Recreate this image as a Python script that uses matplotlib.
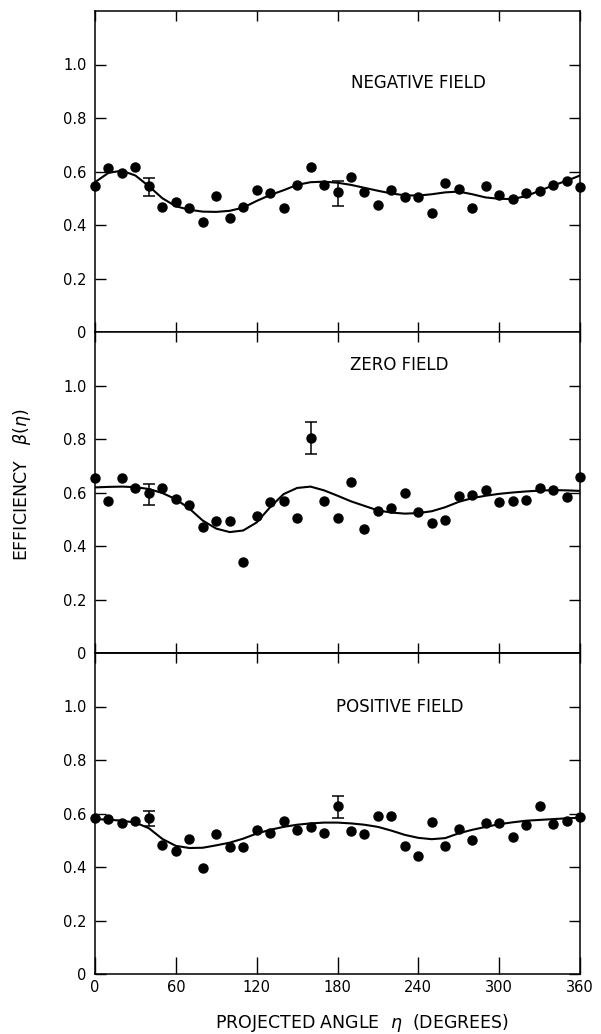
"""Efficiency beta(eta) versus projected angle for three field settings."""

import matplotlib

matplotlib.use("Agg")
import matplotlib.pyplot as plt
import numpy as np

# projected angle (degrees) of every measured point and of the fitted curve
angles = [0, 10, 20, 30, 40, 50, 60, 70, 80, 90, 100, 110, 120, 130, 140, 150,
          160, 170, 180, 190, 200, 210, 220, 230, 240, 250, 260, 270, 280, 290,
          300, 310, 320, 330, 340, 350, 360]

neg_points = [0.545, 0.614, 0.595, 0.617, 0.545, 0.467, 0.485, 0.465, 0.412,
              0.510, 0.427, 0.467, 0.530, 0.519, 0.464, 0.551, 0.617, 0.548,
              0.524, 0.579, 0.524, 0.474, 0.530, 0.505, 0.504, 0.444, 0.556,
              0.535, 0.462, 0.544, 0.514, 0.497, 0.520, 0.526, 0.548, 0.564,
              0.543]
neg_curve = [0.560, 0.595, 0.603, 0.585, 0.545, 0.500, 0.470, 0.457, 0.450,
             0.449, 0.453, 0.465, 0.490, 0.512, 0.530, 0.550, 0.560, 0.562,
             0.558, 0.550, 0.539, 0.528, 0.518, 0.511, 0.510, 0.515, 0.522,
             0.525, 0.515, 0.503, 0.498, 0.497, 0.508, 0.528, 0.548, 0.565,
             0.585]

zero_points = [0.653, 0.569, 0.654, 0.617, 0.597, 0.615, 0.575, 0.554, 0.470,
               0.494, 0.492, 0.339, 0.514, 0.563, 0.569, 0.504, 0.803, 0.569,
               0.504, 0.640, 0.462, 0.529, 0.541, 0.598, 0.527, 0.487, 0.499,
               0.588, 0.589, 0.610, 0.564, 0.570, 0.573, 0.617, 0.610, 0.583,
               0.657]
zero_curve = [0.619, 0.621, 0.622, 0.620, 0.613, 0.598, 0.575, 0.540, 0.495,
              0.465, 0.452, 0.458, 0.488, 0.545, 0.594, 0.617, 0.622, 0.608,
              0.588, 0.567, 0.550, 0.533, 0.525, 0.521, 0.523, 0.530, 0.545,
              0.565, 0.579, 0.588, 0.595, 0.600, 0.604, 0.607, 0.609, 0.608,
              0.606]

pos_points = [0.582, 0.578, 0.566, 0.573, 0.583, 0.481, 0.460, 0.504, 0.398,
              0.523, 0.475, 0.476, 0.538, 0.526, 0.571, 0.540, 0.548, 0.526,
              0.629, 0.533, 0.523, 0.591, 0.589, 0.480, 0.442, 0.570, 0.477,
              0.541, 0.501, 0.563, 0.564, 0.511, 0.556, 0.627, 0.560, 0.571,
              0.586]
pos_curve = [0.579, 0.577, 0.573, 0.566, 0.545, 0.505, 0.479, 0.471, 0.472,
             0.481, 0.491, 0.506, 0.525, 0.539, 0.550, 0.558, 0.563, 0.566,
             0.566, 0.563, 0.558, 0.550, 0.536, 0.520, 0.509, 0.504, 0.508,
             0.526, 0.539, 0.550, 0.560, 0.567, 0.573, 0.576, 0.579, 0.582,
             0.584]

# representative error bars: angle, value, lower, upper
neg_err_angle = [40, 180]
neg_err_value = [0.545, 0.524]
neg_err_low = [0.510, 0.470]
neg_err_high = [0.576, 0.566]

zero_err_angle = [40, 160]
zero_err_value = [0.597, 0.803]
zero_err_low = [0.553, 0.744]
zero_err_high = [0.632, 0.863]

pos_err_angle = [40, 180]
pos_err_value = [0.583, 0.629]
pos_err_low = [0.554, 0.585]
pos_err_high = [0.608, 0.664]

panel_titles = ["NEGATIVE FIELD", "ZERO FIELD", "POSITIVE FIELD"]
x_ticks = [0, 60, 120, 180, 240, 300, 360]
y_ticks = [0, 0.2, 0.4, 0.6, 0.8, 1.0]
y_tick_labels = ["0", "0.2", "0.4", "0.6", "0.8", "1.0"]

panels = [
    (neg_points, neg_curve, neg_err_angle, neg_err_value, neg_err_low, neg_err_high),
    (zero_points, zero_curve, zero_err_angle, zero_err_value, zero_err_low, zero_err_high),
    (pos_points, pos_curve, pos_err_angle, pos_err_value, pos_err_low, pos_err_high),
]
title_pos = [(240, 0.93), (226, 1.075), (226, 1.00)]

plt.rcParams["font.family"] = ["DejaVu Sans"]
plt.rcParams["mathtext.fontset"] = "dejavusans"

fig, axes = plt.subplots(3, 1, figsize=(6.01, 10.34), dpi=100, sharex=True,
                         gridspec_kw=dict(hspace=0))
fig.subplots_adjust(left=95 / 601, right=580 / 601, bottom=60 / 1034,
                    top=1 - 11 / 1034)

for i, (ax, (pts, curve, ea, ev, elo, ehi)) in enumerate(zip(axes, panels)):
    ax.plot(angles, curve, color="black", linewidth=1.5, zorder=2)
    ax.plot(angles, pts, "o", color="black", markersize=6.5, zorder=3,
            clip_on=False)
    ev = np.asarray(ev)
    yerr = [ev - np.asarray(elo), np.asarray(ehi) - ev]
    ax.errorbar(ea, ev, yerr=yerr, fmt="none", ecolor="black",
                elinewidth=1.1, capsize=4.5, capthick=1.1, zorder=3)

    ax.set_xlim(0, 360)
    ax.set_ylim(0, 1.2)
    ax.set_xticks(x_ticks)
    ax.set_yticks(y_ticks)
    ax.set_yticklabels(y_tick_labels)
    ax.tick_params(axis="y", direction="in", length=8, width=1,
                   left=True, right=True, pad=6, labelsize=10.5)
    if i < 2:
        ax.tick_params(axis="x", direction="in", length=7, width=1,
                       top=True, bottom=True)
    else:
        # bottom axis: longer ticks, short ones on top edge via a twin axis
        ax.tick_params(axis="x", direction="in", length=12, width=1,
                       top=False, bottom=True, labelsize=10.5, pad=4)
        top = ax.secondary_xaxis("top")
        top.set_xticks(x_ticks)
        top.tick_params(direction="in", length=7, width=1, labeltop=False)
        top.spines["top"].set_linewidth(1.1)
    for side in ax.spines.values():
        side.set_linewidth(1.1)

    tx, ty = title_pos[i]
    ax.text(tx, ty, panel_titles[i], ha="center", va="center", fontsize=12)

fig.text(22 / 601, 1 - 485 / 1034, r"EFFICIENCY   $\beta(\eta)$", rotation=90,
         ha="center", va="center", fontsize=12.5)
fig.text(362 / 601, 1 - 1023 / 1034, r"PROJECTED ANGLE  $\eta$  (DEGREES)",
         ha="center", va="center", fontsize=12.5)

fig.savefig("out.png", dpi=100)
plt.close(fig)
